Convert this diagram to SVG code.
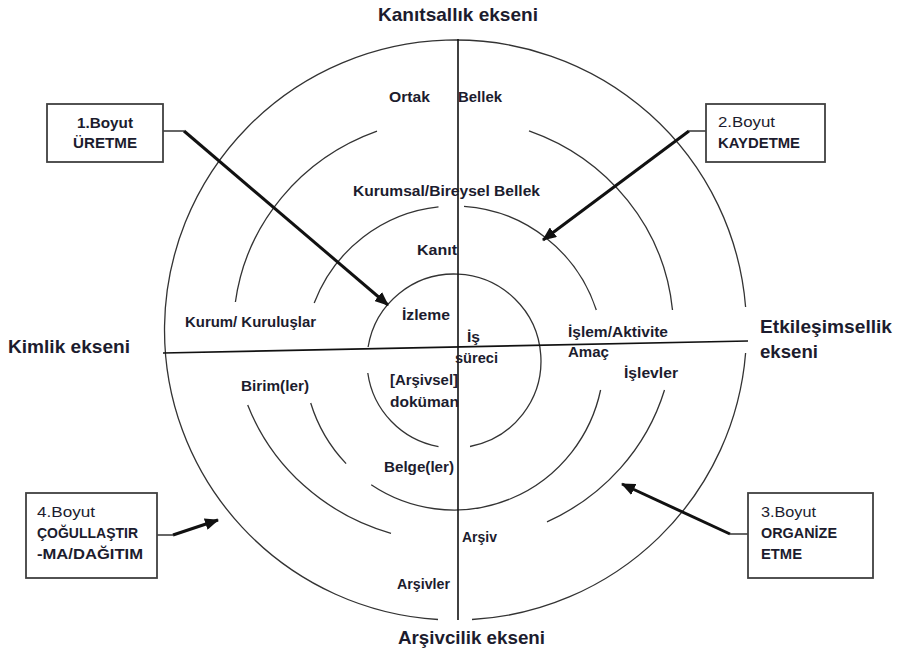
<svg xmlns="http://www.w3.org/2000/svg" width="897" height="654" viewBox="0 0 897 654">
<style>
  text { font-family: "Liberation Sans", Arial, sans-serif; font-weight: bold; fill: #1c1c2e; }
  .axis { font-size: 19px; }
  .lbl { font-size: 15px; }
  .box-t { font-size: 14px; }
  .reg { font-weight: bold; }
  .ring { fill: none; stroke: #333; stroke-width: 1.3; }
  .axisline { fill: none; stroke: #111; stroke-width: 1.6; }
  .box { fill: #fff; stroke: #404040; stroke-width: 1.8; }
  .thin { fill: none; stroke: #404040; stroke-width: 1.6; }
  .thick { fill: none; stroke: #111; stroke-width: 3; marker-end: url(#ah); }
</style>
<defs>
  <marker id="ah" markerUnits="userSpaceOnUse" markerWidth="14" markerHeight="12" refX="13" refY="6" orient="auto">
    <path d="M0,0 L14,6 L0,12 z" fill="#111"/>
  </marker>
</defs>
<rect width="897" height="654" fill="#fff"/>

<g id="rings">
  <path class="ring" d="M745.6,353 A291,290 0 0 1 472,619.5 M438,619.5 A291,290 0 1 1 745.6,307"/>
  <path class="ring" d="M664.5,390 A220,212 0 0 1 547,521.9 M391,533.3 A220,212 0 0 1 247.7,405 M235.4,302 A220,212 0 0 1 377,131.2 M529,130.9 A220,212 0 0 1 672.5,310"/>
  <path class="ring" d="M600.6,390 A150,152 0 0 1 371.2,484.8 M346.1,463.6 A150,152 0 0 1 310.7,403 M314.2,303 A150,152 0 0 1 438.5,206.8 M464,206.3 A150,152 0 0 1 596.3,310"/>
  <path class="ring" d="M368.1,347 A87,87 0 1 1 470,446.5 M438.5,446.6 A87,87 0 0 1 367.8,373"/>
</g>

<g id="axes">
  <line class="axisline" x1="458" y1="39" x2="458" y2="620"/>
  <line class="axisline" x1="163" y1="353" x2="748" y2="341"/>
  <text class="axis" x="378" y="21" textLength="160" lengthAdjust="spacingAndGlyphs">Kanıtsallık ekseni</text>
  <text class="axis" x="8" y="353" textLength="122" lengthAdjust="spacingAndGlyphs">Kimlik ekseni</text>
  <text class="axis" x="760" y="333" textLength="132" lengthAdjust="spacingAndGlyphs">Etkileşimsellik</text>
  <text class="axis" x="760" y="358" textLength="58" lengthAdjust="spacingAndGlyphs">ekseni</text>
  <text class="axis" x="398" y="644" textLength="147" lengthAdjust="spacingAndGlyphs">Arşivcilik ekseni</text>
</g>

<g id="labels">
  <text class="lbl" x="389" y="102" textLength="41" lengthAdjust="spacingAndGlyphs">Ortak</text>
  <text class="lbl" x="458" y="102" textLength="44" lengthAdjust="spacingAndGlyphs">Bellek</text>
  <text class="lbl" x="353" y="196" textLength="187" lengthAdjust="spacingAndGlyphs">Kurumsal/Bireysel Bellek</text>
  <text class="lbl" x="417" y="255" textLength="40" lengthAdjust="spacingAndGlyphs">Kanıt</text>
  <text class="lbl" x="402" y="320" textLength="48" lengthAdjust="spacingAndGlyphs">İzleme</text>
  <text class="lbl" x="467" y="342" textLength="13" lengthAdjust="spacingAndGlyphs">İş</text>
  <text class="lbl" x="455" y="363" textLength="43" lengthAdjust="spacingAndGlyphs">süreci</text>
  <text class="lbl" x="390" y="385" textLength="68" lengthAdjust="spacingAndGlyphs">[Arşivsel]</text>
  <text class="lbl" x="390" y="407" textLength="69" lengthAdjust="spacingAndGlyphs">doküman</text>
  <text class="lbl" x="185" y="327" textLength="131" lengthAdjust="spacingAndGlyphs">Kurum/ Kuruluşlar</text>
  <text class="lbl" x="241" y="391" textLength="68" lengthAdjust="spacingAndGlyphs">Birim(ler)</text>
  <text class="lbl" x="568" y="337" textLength="100" lengthAdjust="spacingAndGlyphs">İşlem/Aktivite</text>
  <text class="lbl" x="568" y="357" textLength="41" lengthAdjust="spacingAndGlyphs">Amaç</text>
  <text class="lbl" x="624" y="378" textLength="54" lengthAdjust="spacingAndGlyphs">İşlevler</text>
  <text class="lbl" x="384" y="472" textLength="70" lengthAdjust="spacingAndGlyphs">Belge(ler)</text>
  <text class="lbl" x="462" y="542" textLength="35" lengthAdjust="spacingAndGlyphs">Arşiv</text>
  <text class="lbl" x="397" y="589" textLength="53" lengthAdjust="spacingAndGlyphs">Arşivler</text>
</g>

<g id="box1">
  <rect class="box" x="47" y="104" width="116" height="58"/>
  <text class="box-t" x="77" y="128" textLength="56" lengthAdjust="spacingAndGlyphs">1.Boyut</text>
  <text class="box-t" x="73" y="148" textLength="64" lengthAdjust="spacingAndGlyphs">ÜRETME</text>
</g>
<g id="box2">
  <rect class="box" x="706" y="104" width="119" height="58"/>
  <text class="box-t" x="718" y="127" font-weight="normal" style="font-weight:normal" textLength="57" lengthAdjust="spacingAndGlyphs">2.Boyut</text>
  <text class="box-t" x="718" y="148" textLength="82" lengthAdjust="spacingAndGlyphs">KAYDETME</text>
</g>
<g id="box3">
  <rect class="box" x="748" y="493" width="125" height="85"/>
  <text class="box-t" x="761" y="517" style="font-weight:normal" textLength="55" lengthAdjust="spacingAndGlyphs">3.Boyut</text>
  <text class="box-t" x="761" y="538" textLength="76" lengthAdjust="spacingAndGlyphs">ORGANİZE</text>
  <text class="box-t" x="761" y="559" textLength="41" lengthAdjust="spacingAndGlyphs">ETME</text>
</g>
<g id="box4">
  <rect class="box" x="26" y="493" width="131" height="85"/>
  <text class="box-t" x="37" y="517" style="font-weight:normal" textLength="58" lengthAdjust="spacingAndGlyphs">4.Boyut</text>
  <text class="box-t" x="37" y="538" textLength="101" lengthAdjust="spacingAndGlyphs">ÇOĞULLAŞTIR</text>
  <text class="box-t" x="37" y="559" textLength="106" lengthAdjust="spacingAndGlyphs">-MA/DAĞITIM</text>
</g>

<g id="connectors">
  <polyline class="thin" points="163,131 184,131"/>
  <line class="thick" x1="184" y1="131" x2="388" y2="305"/>
  <polyline class="thin" points="706,131 689,131"/>
  <line class="thick" x1="689" y1="131" x2="543" y2="240"/>
  <polyline class="thin" points="748,534 730,534"/>
  <line class="thick" x1="730" y1="534" x2="622" y2="484"/>
  <polyline class="thin" points="157,535 173,535"/>
  <line class="thick" x1="173" y1="535" x2="218" y2="520"/>
</g>
</svg>
